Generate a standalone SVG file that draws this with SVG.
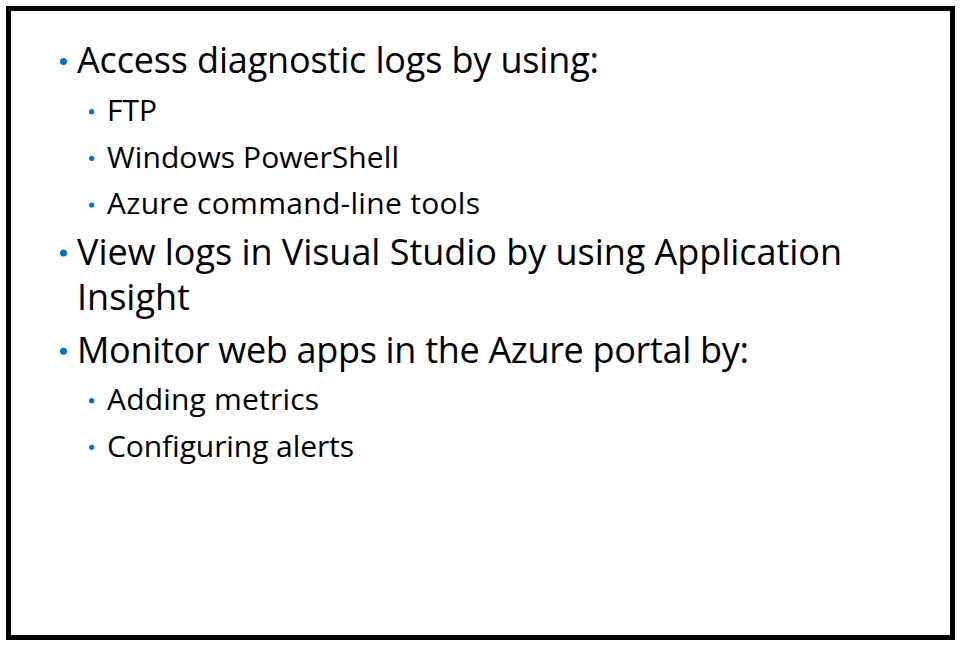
<svg xmlns="http://www.w3.org/2000/svg" width="960" height="645" viewBox="0 0 960 645">
<style>
.l1{font-family:"Open Sans","Noto Sans",sans-serif;font-size:36px;fill:#000}
.l2{font-family:"Open Sans","Noto Sans",sans-serif;font-size:30px;fill:#000}
.b{fill:#0070C0}
</style>
<rect x="0" y="0" width="960" height="645" fill="#fff"/>
<rect id="frame" x="8.5" y="8.5" width="944" height="629" fill="#fff" stroke="#000" stroke-width="5"/>
<g id="bullets">
<circle class="b" cx="63.5" cy="61.5" r="3.5"/>
<circle class="b" cx="91.7" cy="111.7" r="2.6"/>
<circle class="b" cx="91.7" cy="158.3" r="2.6"/>
<circle class="b" cx="91.7" cy="205" r="2.6"/>
<circle class="b" cx="63.5" cy="253" r="3.5"/>
<circle class="b" cx="63.5" cy="351.3" r="3.5"/>
<circle class="b" cx="91.7" cy="400.7" r="2.6"/>
<circle class="b" cx="91.7" cy="447.3" r="2.6"/>
</g>
<g id="text">
<text class="l1" x="77" y="73.3" textLength="522">Access diagnostic logs by using:</text>
<text class="l2" x="107" y="121">FTP</text>
<text class="l2" x="107" y="167.7" textLength="292">Windows PowerShell</text>
<text class="l2" x="107" y="214.3" textLength="373">Azure command-line tools</text>
<text class="l1" x="77" y="265" textLength="765">View logs in Visual Studio by using Application</text>
<text class="l1" x="77" y="310">Insight</text>
<text class="l1" x="77" y="363.3" textLength="672">Monitor web apps in the Azure portal by:</text>
<text class="l2" x="107" y="410" textLength="212">Adding metrics</text>
<text class="l2" x="107" y="456.7" textLength="247">Configuring alerts</text>
</g>
</svg>
